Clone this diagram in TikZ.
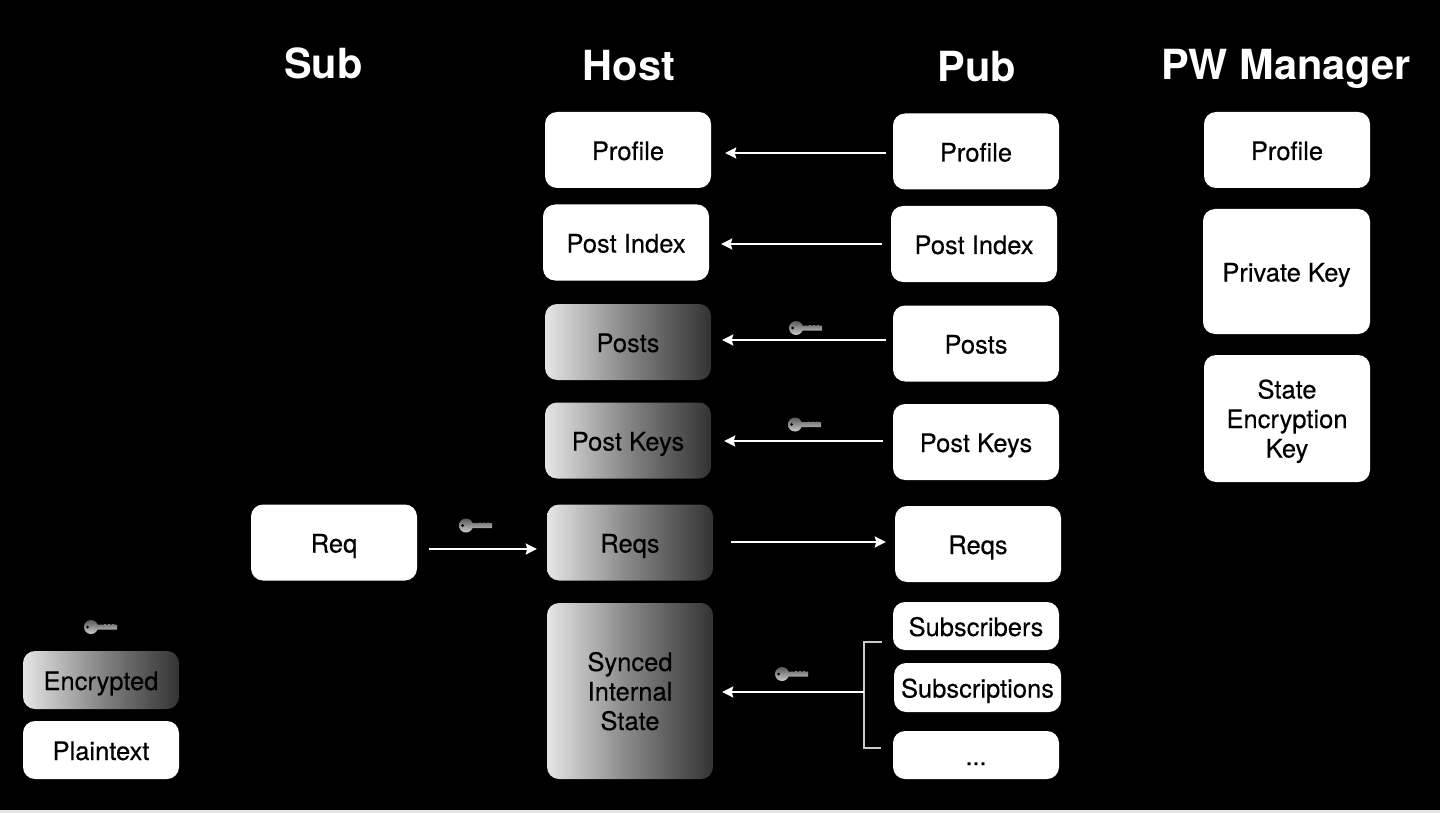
\documentclass[tikz,border=0pt]{standalone}
\usepackage{fontspec}
\setmainfont{TeX Gyre Heros}
\newfontfamily\boxfont[FakeBold=0.3]{TeX Gyre Heros}
\usetikzlibrary{arrows.meta}
\tikzset{
  box/.style={fill=white,text=black,rounded corners=12pt,align=center,font=\boxfont\fontsize{25.5}{29.5}\selectfont,minimum width=166pt,minimum height=76pt,inner sep=0pt,text height=24pt,text depth=4pt},
  locked/.style={box,fill=none,left color=black!10,right color=black!80,middle color=black!48},
  threeline/.style={text height=78pt,text depth=0pt},
  heading/.style={text=white,font=\bfseries\fontsize{41.5}{48}\selectfont,inner sep=0pt,text height=30pt,text depth=0pt},
  flow/.style={draw=white,line width=2pt,-{Stealth[length=11pt,width=11pt,inset=1.5pt]}},
  bracket/.style={draw=black!20,line width=1.2pt},
  keyicon/.pic={
    \path[top color=black!65,bottom color=black!20]
      (7,0) circle [radius=7] (33,-2.5) rectangle (10,2.5)
      (22,-3) rectangle (20,0) (26,-3) rectangle (24,0) (30,-3) rectangle (28,0);
    \fill[black] (3.5,0) circle [radius=1.5];
  }
}
\begin{document}
\begin{tikzpicture}[x=1pt,y=-1pt]
\useasboundingbox (0,0) rectangle (1440,813);
\fill[black] (0,0) rectangle (1440,813);
\fill[black!10] (0,810) rectangle (1440,813);
% headings
\node[heading] (subtitle) at (323.5,64) {Sub};
\node[heading] (hosttitle) at (629,66) {Host};
\node[heading] (pubtitle) at (977,67) {Pub};
\node[heading] (pwtitle) at (1286,65) {PW Manager};
% host column
\node[box] (hostprofile) at (628,150) {Profile};
\node[box] (hostindex) at (626,242.5) {Post Index};
\node[locked] (hostposts) at (628,342) {Posts};
\node[locked] (hostkeys) at (628,440.5) {Post Keys};
\node[locked] (hostreqs) at (630,542.5) {Reqs};
\node[locked,threeline,minimum height=176pt] (hoststate) at (630,691) {Synced\\Internal\\State};
% pub column
\node[box] (pubprofile) at (976,151.5) {Profile};
\node[box] (pubindex) at (974,244) {Post Index};
\node[box] (pubposts) at (976,343.5) {Posts};
\node[box] (pubkeys) at (976,442) {Post Keys};
\node[box] (pubreqs) at (978,544) {Reqs};
\node[box,minimum height=48pt] (subscribers) at (976,626) {Subscribers};
\node[box,minimum height=49pt,minimum width=167pt] (subscriptions) at (977.5,687.5) {Subscriptions};
\node[box,minimum height=48pt] (others) at (976,755) {...};
% pw manager column
\node[box] (pwprofile) at (1287,150) {Profile};
\node[box,minimum height=125pt,minimum width=167pt] (pwkey) at (1286.5,271.5) {Private Key};
\node[box,threeline,minimum height=127pt] (pwstate) at (1287,418.5) {State\\Encryption\\Key};
% sub column
\node[box] (subreq) at (334,542.5) {Req};
% legend
\node[locked,minimum width=156pt,minimum height=58pt] (encrypted) at (101,680) {Encrypted};
\node[box,minimum width=156pt,minimum height=58pt] (plaintext) at (101,750) {Plaintext};
% connectors
\draw[flow,shorten <=7pt,shorten >=14pt] ([yshift=-1.5pt]pubprofile.west) -- ([yshift=-3pt]hostprofile.east);
\draw[flow,shorten <=9pt,shorten >=12pt] (pubindex.west) -- ([yshift=-1.5pt]hostindex.east);
\draw[flow,shorten <=7pt,shorten >=11pt] ([yshift=3.5pt]pubposts.west) -- ([yshift=2pt]hostposts.east);
\draw[flow,shorten <=10pt,shorten >=13pt] ([yshift=1pt]pubkeys.west) -- ([yshift=-.5pt]hostkeys.east);
\draw[flow,shorten <=12pt,shorten >=10pt] ([yshift=-6.5pt]subreq.east) -- ([yshift=-6.5pt]hostreqs.west);
\draw[flow,shorten <=18pt,shorten >=9pt] ([yshift=.5pt]hostreqs.east) -- ([yshift=2pt]pubreqs.west);
% bracket
\coordinate (bracetop) at (882,642);
\coordinate (bracemid) at (864,692);
\coordinate (bracebot) at (881,748);
\draw[bracket] (bracetop) -- (bracetop -| bracemid) -- (bracebot -| bracemid) -- (bracebot);
\draw[flow,shorten >=9pt] (bracemid) -- ([yshift=-1pt]hoststate.east);
% keys
\pic at (789,328) {keyicon};
\pic at (788,424.5) {keyicon};
\pic at (459,525.5) {keyicon};
\pic at (775,674) {keyicon};
\pic at (84,627) {keyicon};
\end{tikzpicture}
\end{document}
